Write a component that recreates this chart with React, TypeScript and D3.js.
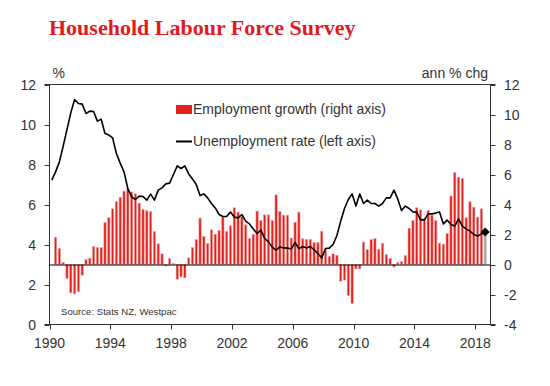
import * as d3 from "d3";

// HLFS quarterly series (first point plotted just after 1990)
const unemployment = [
  7.22, 7.63, 8.13, 8.92, 9.75, 10.58, 11.25, 11.05, 11.02, 10.55, 10.67, 10.65,
  10.17, 10.27, 9.55, 9.47, 9.33, 8.55, 8.07, 7.63, 6.8, 6.38, 6.25, 6.42, 6.4,
  6.22, 6.52, 6.22, 6.72, 6.83, 7.03, 7.07, 7.5, 7.93, 7.8, 7.93, 7.53, 7.28,
  7.0, 6.45, 6.53, 6.33, 6.05, 5.83, 5.5, 5.4, 5.4, 5.62, 5.37, 5.33, 5.5, 5.17,
  5.03, 4.78, 4.55, 4.72, 4.3, 4.13, 3.87, 3.72, 3.88, 3.83, 3.82, 3.77, 4.1,
  3.78, 3.9, 3.83, 3.9, 3.73, 3.55, 3.33, 3.8, 3.82, 4.0, 4.45,
  5.17, 5.8, 6.25, 6.53, 5.92, 6.53, 6.05, 6.22, 6.05, 6.05, 5.92, 6.05, 6.33,
  6.33, 6.72, 6.28, 5.7, 5.92, 5.8, 5.63, 5.62, 5.23, 5.23, 5.53, 5.53, 5.57,
  5.62, 5.03, 5.22, 5.0, 4.92, 5.28, 4.92, 4.78, 4.67, 4.5, 4.42, 4.53, 4.62,
];

// annual % change, starts one quarter after the unemployment series
const employmentGrowth = [
  1.82, 1.07, 0.13, -0.93, -1.89, -1.96, -1.82, -0.71, 0.33, 0.42, 1.2, 1.13,
  1.13, 2.8, 3.13, 3.71, 4.2, 4.47, 4.89, 5.04, 4.84, 4.71, 4.09, 3.67, 3.58,
  3.53, 2.2, 1.38, 0.71, -0.1, 0.4, 0.07, -0.98, -0.82, -0.89, 0.44, 1.13,
  1.67, 3.09, 1.87, 1.4, 2.31, 2.02, 2.27, 3.16, 2.2, 2.58, 3.78, 3.49, 3.18,
  2.64, 1.73, 2.02, 3.56, 2.93, 3.31, 3.31, 2.93, 4.64, 3.53, 3.29, 3.29, 1.76,
  2.82, 3.49, 1.71, 1.67, 1.67, 1.47, 1.47, 2.22, 0.96, 0.53, 0.71, 0.62,
  -1.11, -1.04, -2.07, -2.6, -0.29, -0.29, 1.49, 1.0, 1.67, 1.73, 1.02, 1.42,
  0.67, 0.4, -0.16, 0.13, 0.2, 0.6, 2.42, 2.93, 3.78, 3.64, 3.04, 3.6, 3.29,
  2.93, 1.42, 1.36, 2.07, 4.56, 6.13, 5.82, 5.73, 3.11, 4.18, 3.82, 3.16, 3.71,
  2.04,
];

const xTicks = [1990, 1994, 1998, 2002, 2006, 2010, 2014, 2018];
const leftTicks = [0, 2, 4, 6, 8, 10, 12];
const rightTicks = [-4, -2, 0, 2, 4, 6, 8, 10, 12];

const firstDate = 1990.15;
const quarter = 0.25;

const W = 550;
const H = 386;
const left = 49.5;
const right = 490.5;
const top = 84.5;
const bottom = 324.5;

const sans = "'Liberation Sans', Arial, sans-serif";
const axisColor = "#333";
const red = "#e3201c";

export default function App() {
  const x = d3.scaleLinear().domain([1990, 2019]).range([left, right]);
  const yL = d3.scaleLinear().domain([0, 12]).range([bottom, top]);
  const yR = d3.scaleLinear().domain([-4, 12]).range([bottom, top]);

  const lineDates = unemployment.map((_, i) => firstDate + i * quarter);
  const line = d3
    .line<number>()
    .x((_, i) => x(lineDates[i]))
    .y((d) => yL(d));

  const barW = 2.3;
  const last = employmentGrowth.length - 1;
  const endX = x(lineDates[lineDates.length - 1]);
  const endY = yL(unemployment[unemployment.length - 1]);

  return (
    <svg
      width={W}
      height={H}
      style={{ position: "absolute", left: 0, top: 0, background: "#fff" }}
      fontFamily={sans}
    >
      <text
        x={49}
        y={34.5}
        fontFamily="'Liberation Serif', 'Times New Roman', serif"
        fontWeight="bold"
        fontSize={22}
        fill="#e4191e"
      >
        Household Labour Force Survey
      </text>

      <text x={52.5} y={77.5} fontSize={14} fill={axisColor}>%</text>
      <text x={488} y={77.5} fontSize={14} fill={axisColor} textAnchor="end">
        ann % chg
      </text>

      {/* bars */}
      {employmentGrowth.map((v, k) => {
        const cx = x(firstDate + (k + 1) * quarter);
        const y0 = yR(0);
        const y1 = yR(v);
        const grey = k === last;
        return (
          <rect
            key={k}
            x={cx - barW / 2}
            y={Math.min(y0, y1)}
            width={barW}
            height={Math.abs(y1 - y0)}
            fill={grey ? "#a5a5a5" : red}
            stroke={grey ? "#c8c8c8" : "#f2a3a0"}
            strokeWidth={0.6}
          />
        );
      })}
      <line x1={left} x2={right} y1={yR(0) + 0.5} y2={yR(0) + 0.5} stroke="#000" strokeWidth={1} />

      <path d={line(unemployment) ?? ""} fill="none" stroke="#000" strokeWidth={1.6} strokeLinejoin="round" />
      <path
        d={`M${endX},${endY - 4.5}L${endX + 4.5},${endY}L${endX},${endY + 4.5}L${endX - 4.5},${endY}Z`}
        fill="#000"
      />

      {/* frame */}
      <line x1={left - 5} x2={right + 5} y1={top} y2={top} stroke={axisColor} />
      <line x1={left - 5} x2={right + 5} y1={bottom} y2={bottom} stroke={axisColor} />
      <line x1={left} x2={left} y1={top} y2={bottom} stroke={axisColor} />
      <line x1={right} x2={right} y1={top} y2={bottom} stroke={axisColor} />

      {leftTicks.map((t) => (
        <g key={`l${t}`}>
          <line x1={left - 5} x2={left} y1={Math.round(yL(t)) + 0.5} y2={Math.round(yL(t)) + 0.5} stroke={axisColor} />
          <text x={36} y={yL(t)} dy="0.36em" fontSize={14} textAnchor="end" fill={axisColor}>
            {t}
          </text>
        </g>
      ))}
      {rightTicks.map((t) => (
        <g key={`r${t}`}>
          <line x1={right} x2={right + 5} y1={Math.round(yR(t)) + 0.5} y2={Math.round(yR(t)) + 0.5} stroke={axisColor} />
          <text x={504} y={yR(t)} dy="0.36em" fontSize={14} fill={axisColor}>
            {t}
          </text>
        </g>
      ))}
      {xTicks.map((t) => (
        <g key={`x${t}`}>
          <line x1={Math.round(x(t)) + 0.5} x2={Math.round(x(t)) + 0.5} y1={bottom} y2={bottom + 5} stroke={axisColor} />
          <text x={x(t)} y={348} fontSize={14} textAnchor="middle" fill={axisColor}>
            {t}
          </text>
        </g>
      ))}

      {/* legend */}
      <rect x={176} y={105} width={16} height={9} fill={red} />
      <text x={193} y={114} fontSize={14} fill={axisColor}>Employment growth (right axis)</text>
      <line x1={176} x2={192} y1={141.5} y2={141.5} stroke="#000" strokeWidth={2} />
      <text x={193} y={146} fontSize={14} fill={axisColor}>Unemployment rate (left axis)</text>

      <text x={61} y={315} fontSize={9.6} fill={axisColor}>Source: Stats NZ, Westpac</text>
    </svg>
  );
}
